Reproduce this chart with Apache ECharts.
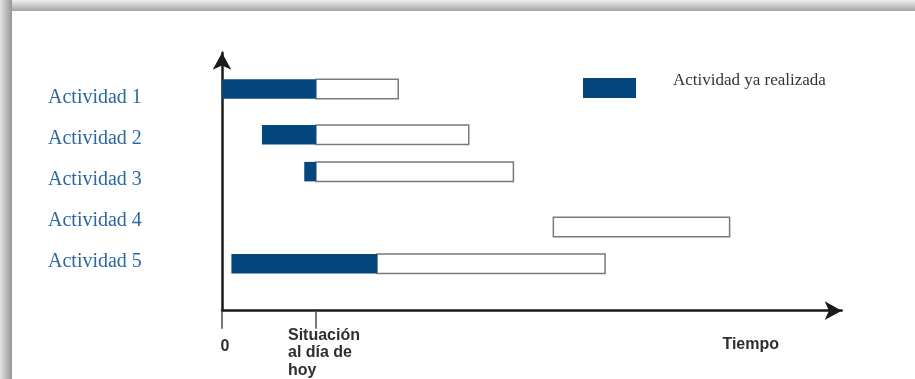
<!DOCTYPE html>
<html>
<head>
<meta charset="utf-8">
<script src="https://cdn.jsdelivr.net/npm/echarts@6/dist/echarts.min.js"></script>
<style>
  html, body { margin: 0; padding: 0; background: #ffffff; }
  #chart { width: 915px; height: 379px; }
</style>
</head>
<body>
<div id="chart"></div>
<script>
// Activity names (rows) and legend entry
const actividades = ['Actividad 1', 'Actividad 2', 'Actividad 3', 'Actividad 4', 'Actividad 5'];
const leyenda = 'Actividad ya realizada';

// Time values (same unit along the time axis)
const hoy = 40;                              // "today"
const inicio = [0, 17, 35, 141, 4];          // start of each activity
const avance = [40, 40, 40, null, 66];       // progress reached (null = not started)
const fin = [75, 105, 124, 216, 163];        // planned end
const fila = [8.59, 6.82, 5.39, 3.24, 1.82]; // row level of each bar on the vertical axis

// Tick labels of the time axis
const marcas = [0, hoy];
const etiquetaCero = '0';
const etiquetaHoy = ['Situación', 'al día de', 'hoy'];

const doneData = [];
const pendingData = [];
actividades.forEach((name, i) => {
  if (avance[i] != null) doneData.push([inicio[i], avance[i], fila[i], name]);
  const from = avance[i] != null ? avance[i] : inicio[i];
  pendingData.push([from, fin[i], fila[i], name]);
});

function barItem(params, api) {
  const a = api.coord([api.value(0), api.value(2)]);
  const b = api.coord([api.value(1), api.value(2)]);
  const h = api.size([0, 0.756])[1];
  return {
    type: 'rect',
    shape: { x: a[0], y: a[1] - h / 2, width: b[0] - a[0], height: h },
    style: api.style()
  };
}

const chart = echarts.init(document.getElementById('chart'), null, { renderer: 'canvas' });

chart.setOption({
  backgroundColor: '#ffffff',
  animation: false,
  graphic: [
    {
      type: 'rect', left: 0, top: 0, silent: true, z: -10,
      shape: { width: 915, height: 11 },
      style: { fill: new echarts.graphic.LinearGradient(0, 0, 0, 1, [
        { offset: 0, color: '#f0f0f0' }, { offset: 1, color: '#a4a4a4' }]) }
    },
    {
      type: 'rect', left: 0, top: 0, silent: true, z: -9,
      shape: { width: 12, height: 379 },
      style: { fill: new echarts.graphic.LinearGradient(0, 0, 1, 0, [
        { offset: 0, color: '#e4e4e4' }, { offset: 1, color: '#969696' }]) }
    }
  ],
  legend: {
    data: [leyenda],
    left: 583, top: 72, padding: 0,
    icon: 'rect', itemWidth: 53, itemHeight: 20,
    selectedMode: false,
    formatter: name => '{t|' + name + '}',
    textStyle: {
      fontFamily: '"Liberation Serif", "Times New Roman", serif',
      fontSize: 17, color: '#333333',
      rich: {
        t: {
          fontFamily: '"Liberation Serif", "Times New Roman", serif',
          fontSize: 17, color: '#333333',
          padding: [0, 0, 15, 32]
        }
      }
    }
  },
  grid: [
    { left: 222, right: 73.3, top: 52.7, bottom: 68.3, outerBoundsMode: 'none' },
    { left: 48, width: 100, top: 77.5, height: 204.5, outerBoundsMode: 'none' }
  ],
  xAxis: [
    {
      type: 'value', gridIndex: 0, min: 0, max: 263.7,
      splitLine: { show: false },
      axisLine: {
        show: true, onZero: false,
        lineStyle: { color: '#1a1a1a', width: 2.5 },
        symbol: ['none', 'arrow'], symbolSize: [14, 17]
      },
      axisTick: {
        show: true, customValues: marcas, length: 18,
        lineStyle: { color: '#555555', width: 1.6 }
      },
      axisLabel: {
        show: true, customValues: marcas, margin: 16,
        align: 'center', verticalAlign: 'top',
        formatter: v => v === 0
          ? '{cero|' + etiquetaCero + '}'
          : etiquetaHoy.map(t => '{hoy|' + t + '}').join('\n'),
        rich: {
          cero: {
            fontFamily: '"Liberation Sans", Arial, sans-serif', fontWeight: 'bold',
            fontSize: 16, color: '#2e2e2e', padding: [12, 0, 0, 6]
          },
          hoy: {
            fontFamily: '"Liberation Sans", Arial, sans-serif', fontWeight: 'bold',
            fontSize: 16, lineHeight: 17.5, color: '#2e2e2e', align: 'left',
            padding: [0, 0, 0, 16]
          }
        }
      },
      name: 'Tiempo',
      nameLocation: 'end',
      nameGap: -91,
      nameTextStyle: {
        fontFamily: '"Liberation Sans", Arial, sans-serif', fontWeight: 'bold',
        fontSize: 16, color: '#2e2e2e',
        align: 'center', verticalAlign: 'top', padding: [26, 0, 0, 0]
      }
    },
    { type: 'value', gridIndex: 1, show: false }
  ],
  yAxis: [
    {
      type: 'value', gridIndex: 0, min: 0, max: 10,
      splitLine: { show: false },
      axisTick: { show: false },
      axisLabel: { show: false },
      axisLine: {
        show: true, onZero: false,
        lineStyle: { color: '#1a1a1a', width: 2.5 },
        symbol: ['none', 'arrow'], symbolSize: [14, 17]
      }
    },
    {
      type: 'category', gridIndex: 1, inverse: true,
      data: actividades,
      axisLine: { show: false },
      axisTick: { show: false },
      splitLine: { show: false },
      axisLabel: {
        margin: 0, align: 'left',
        fontFamily: '"Liberation Serif", "Times New Roman", serif',
        fontSize: 20, color: '#2c68a0'
      }
    }
  ],
  series: [
    {
      name: 'Pendiente',
      type: 'custom',
      xAxisIndex: 0, yAxisIndex: 0,
      renderItem: barItem,
      encode: { x: [0, 1], y: 2 },
      itemStyle: { color: '#ffffff', borderColor: '#7a7a7a', borderWidth: 1.5 },
      data: pendingData,
      z: 2
    },
    {
      name: leyenda,
      type: 'custom',
      xAxisIndex: 0, yAxisIndex: 0,
      renderItem: barItem,
      encode: { x: [0, 1], y: 2 },
      itemStyle: { color: '#04477f' },
      data: doneData,
      z: 3
    }
  ]
});
</script>
</body>
</html>
